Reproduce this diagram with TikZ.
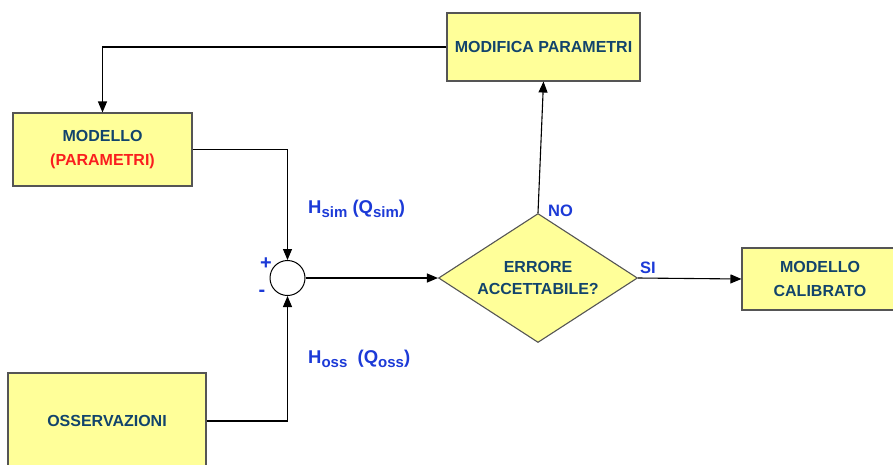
\documentclass[tikz,border=0pt]{standalone}
\usepackage{fontspec}
\setmainfont{Liberation Sans}
\usetikzlibrary{shapes.geometric,arrows.meta}
\definecolor{boxfill}{RGB}{255,255,153}
\definecolor{boxdraw}{RGB}{85,85,85}
\definecolor{boxtext}{RGB}{18,68,108}
\definecolor{lblblue}{RGB}{28,58,215}
\definecolor{lblred}{RGB}{250,30,30}
\tikzset{
  x=1pt, y=-1pt,
  box/.style={draw=boxdraw, line width=1.1pt, fill=boxfill, rectangle, inner sep=0pt,
    align=center, text=boxtext, font=\bfseries\fontsize{16}{24}\selectfont},
  dia/.style={draw=boxdraw, line width=1.1pt, fill=boxfill, diamond, inner sep=0pt, shape aspect=1.54,
    align=center, text=boxtext, font=\bfseries\fontsize{16}{22}\selectfont},
  sumnode/.style={draw=black, line width=1pt, fill=white, circle, minimum size=35pt, inner sep=0pt},
  conn/.style={draw=black, line width=1.1pt, -{Triangle[length=11pt,width=9pt]}},
  lbl/.style={text=lblblue, font=\bfseries\fontsize{16.5}{18}\selectfont, inner sep=0pt}
}
\newcommand{\subs}[1]{\raisebox{-4pt}{\fontsize{15}{15}\selectfont #1}}
\begin{document}
\begin{tikzpicture}
\useasboundingbox (0,0) rectangle (893,464);
\clip (0,0) rectangle (893,464);
\node[box, minimum width=193pt, minimum height=68pt] (modpar) at (543.5,47) {MODIFICA PARAMETRI};
\node[box, minimum width=179pt, minimum height=73pt] (modello) at (102.5,149.5) {MODELLO\\\textcolor{lblred}{(PARAMETRI)}};
\node[box, minimum width=198pt, minimum height=96pt] (osserv) at (107,421) {OSSERVAZIONI};
\node[sumnode] (sum) at (287.5,278) {};
\node[dia, minimum width=199pt, minimum height=129pt] (err) at (538,278) {ERRORE\\ACCETTABILE?};
\node[box, minimum width=156pt, minimum height=62pt] (calib) at (820,279) {MODELLO\\CALIBRATO};

\draw[conn] (modpar.west) -| (modello.north);
\draw[conn] (modello.east) -| (sum.north);
\draw[conn] (osserv.east) -| (sum.south);
\draw[conn] (sum.east) -- (err.west);
\draw[conn] (err.north) -- (modpar.south);
\draw[conn] (err.east) -- (calib.west);

\node[lbl, font=\bfseries\fontsize{20}{20}\selectfont] (plus) at (266,264) {+};
\node[lbl, font=\bfseries\fontsize{20}{20}\selectfont] (minus) at (262,293) {-};
\node[lbl, anchor=base west, font=\bfseries\fontsize{18.5}{20}\selectfont] (hsim) at (308,213) {H\subs{sim} (Q\subs{sim})};
\node[lbl, anchor=base west, font=\bfseries\fontsize{18.5}{20}\selectfont] (hoss) at (308,363) {H\subs{oss}\ \ (Q\subs{oss})};
\node[lbl, anchor=base west] (no) at (548,216) {NO};
\node[lbl, anchor=base west] (si) at (640,273) {SI};
\end{tikzpicture}
\end{document}
